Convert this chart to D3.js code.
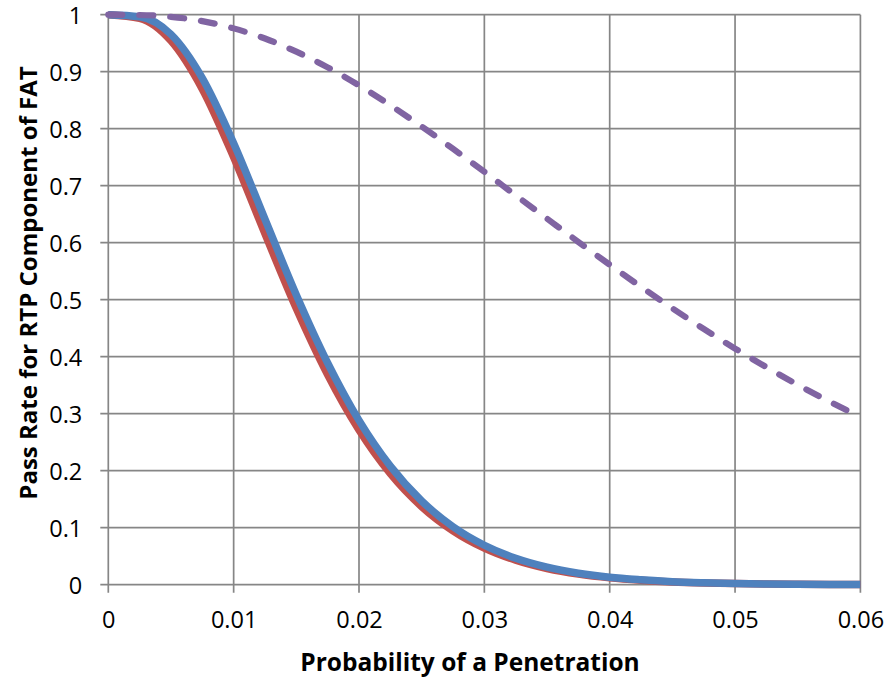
<!DOCTYPE html>
<html>
<head>
<meta charset="utf-8">
<script src="https://cdn.jsdelivr.net/npm/d3@7"></script>
<style>
  html, body { margin: 0; padding: 0; background: #fff; }
  svg { display: block; }
  text { font-family: "Open Sans", "Liberation Sans", sans-serif; fill: #000; }
</style>
</head>
<body>
<svg id="chart" width="885" height="681"></svg>
<script>
// Probability of a penetration (x values)
const penetration = [0, 0.0025, 0.005, 0.0075, 0.01, 0.0125, 0.015, 0.0175, 0.02, 0.0225, 0.025, 0.0275,
  0.03, 0.0325, 0.035, 0.0375, 0.04, 0.0425, 0.045, 0.0475, 0.05, 0.0525, 0.055, 0.0575, 0.06];
// Pass rate series
const passRed = [1, 0.9937, 0.9541, 0.8693, 0.7498, 0.6155, 0.4845, 0.3682, 0.2713, 0.1948, 0.137, 0.0945,
  0.0641, 0.0429, 0.0283, 0.0185, 0.012, 0.0078, 0.0049, 0.0031, 0.0019, 0.0012, 0.0007, 0.0004, 0.0003];
const passBlue = [1, 0.9964, 0.9654, 0.8887, 0.7745, 0.6412, 0.5083, 0.389, 0.2882, 0.208, 0.1468, 0.1016,
  0.0692, 0.0464, 0.0307, 0.0201, 0.013, 0.0086, 0.0053, 0.0034, 0.0021, 0.0013, 0.0008, 0.0005, 0.0003];
const passPurple = [1, 0.9995, 0.9963, 0.9887, 0.976, 0.9582, 0.9351, 0.9076, 0.876, 0.8411, 0.8038, 0.7647,
  0.7243, 0.6831, 0.6422, 0.6014, 0.5614, 0.5225, 0.4849, 0.4488, 0.4143, 0.3817, 0.3507, 0.3216, 0.2943];
// Tick values and labels
const xTicks = [0, 0.01, 0.02, 0.03, 0.04, 0.05, 0.06];
const xTickLabels = ["0", "0.01", "0.02", "0.03", "0.04", "0.05", "0.06"];
const yTicks = [0, 0.1, 0.2, 0.3, 0.4, 0.5, 0.6, 0.7, 0.8, 0.9, 1];
const yTickLabels = ["0", "0.1", "0.2", "0.3", "0.4", "0.5", "0.6", "0.7", "0.8", "0.9", "1"];
const xTitle = "Probability of a Penetration";
const yTitle = "Pass Rate for RTP Component of FAT";

const svg = d3.select("#chart");
const x = d3.scaleLinear().domain([0, 0.06]).range([108.3, 860.4]);
const y = d3.scaleLinear().domain([0, 1]).range([584.7, 14.7]);
const gridColor = "#868686";

// gridlines
const grid = svg.append("g");
grid.selectAll(".vg").data(xTicks).join("line")
  .attr("x1", d => x(d)).attr("x2", d => x(d))
  .attr("y1", y(1)).attr("y2", y(0) + 8)
  .attr("stroke", gridColor).attr("stroke-width", 1.7);
grid.selectAll(".hg").data(yTicks).join("line")
  .attr("x1", x(0) - 8).attr("x2", x(0.06))
  .attr("y1", d => y(d)).attr("y2", d => y(d))
  .attr("stroke", gridColor).attr("stroke-width", 1.7);

// axes labels via d3 axes (domain/ticks hidden, labels kept)
const xAxis = d3.axisBottom(x).tickValues(xTicks).tickFormat((d, i) => xTickLabels[i]).tickSize(0).tickPadding(0);
const gx = svg.append("g").attr("transform", `translate(0, ${y(0)})`).call(xAxis);
gx.select(".domain").remove();
gx.selectAll("text").attr("dy", null).attr("y", 43.5).attr("font-size", 23.5)
  .attr("font-family", '"Open Sans", sans-serif').attr("fill", "#000");

const yAxis = d3.axisLeft(y).tickValues(yTicks).tickFormat((d, i) => yTickLabels[i]).tickSize(0).tickPadding(0);
const gy = svg.append("g").attr("transform", `translate(${x(0)}, 0)`).call(yAxis);
gy.select(".domain").remove();
gy.selectAll("text").attr("x", -26).attr("dy", "0.36em").attr("font-size", 23.5)
  .attr("font-family", '"Open Sans", sans-serif').attr("fill", "#000");

// series
const line = d3.line().x((d, i) => x(penetration[i])).y(d => y(d)).curve(d3.curveMonotoneX);
svg.append("path").datum(passRed).attr("d", line)
  .attr("fill", "none").attr("stroke", "#C0504D").attr("stroke-width", 7.5).attr("stroke-linejoin", "round");
svg.append("path").datum(passBlue).attr("d", line)
  .attr("fill", "none").attr("stroke", "#4F81BD").attr("stroke-width", 7.5).attr("stroke-linejoin", "round");
svg.append("path").datum(passPurple).attr("d", line)
  .attr("fill", "none").attr("stroke", "#8064A2").attr("stroke-width", 6.2)
  .attr("stroke-linecap", "round").attr("stroke-dasharray", "14,17");

// titles
svg.append("text").attr("x", 470).attr("y", 671).attr("text-anchor", "middle")
  .attr("font-size", 24.5).attr("font-weight", "bold").text(xTitle);
svg.append("text").attr("transform", `translate(37, 283) rotate(-90)`).attr("text-anchor", "middle")
  .attr("font-size", 24).attr("font-weight", "bold").text(yTitle);
</script>
</body>
</html>
